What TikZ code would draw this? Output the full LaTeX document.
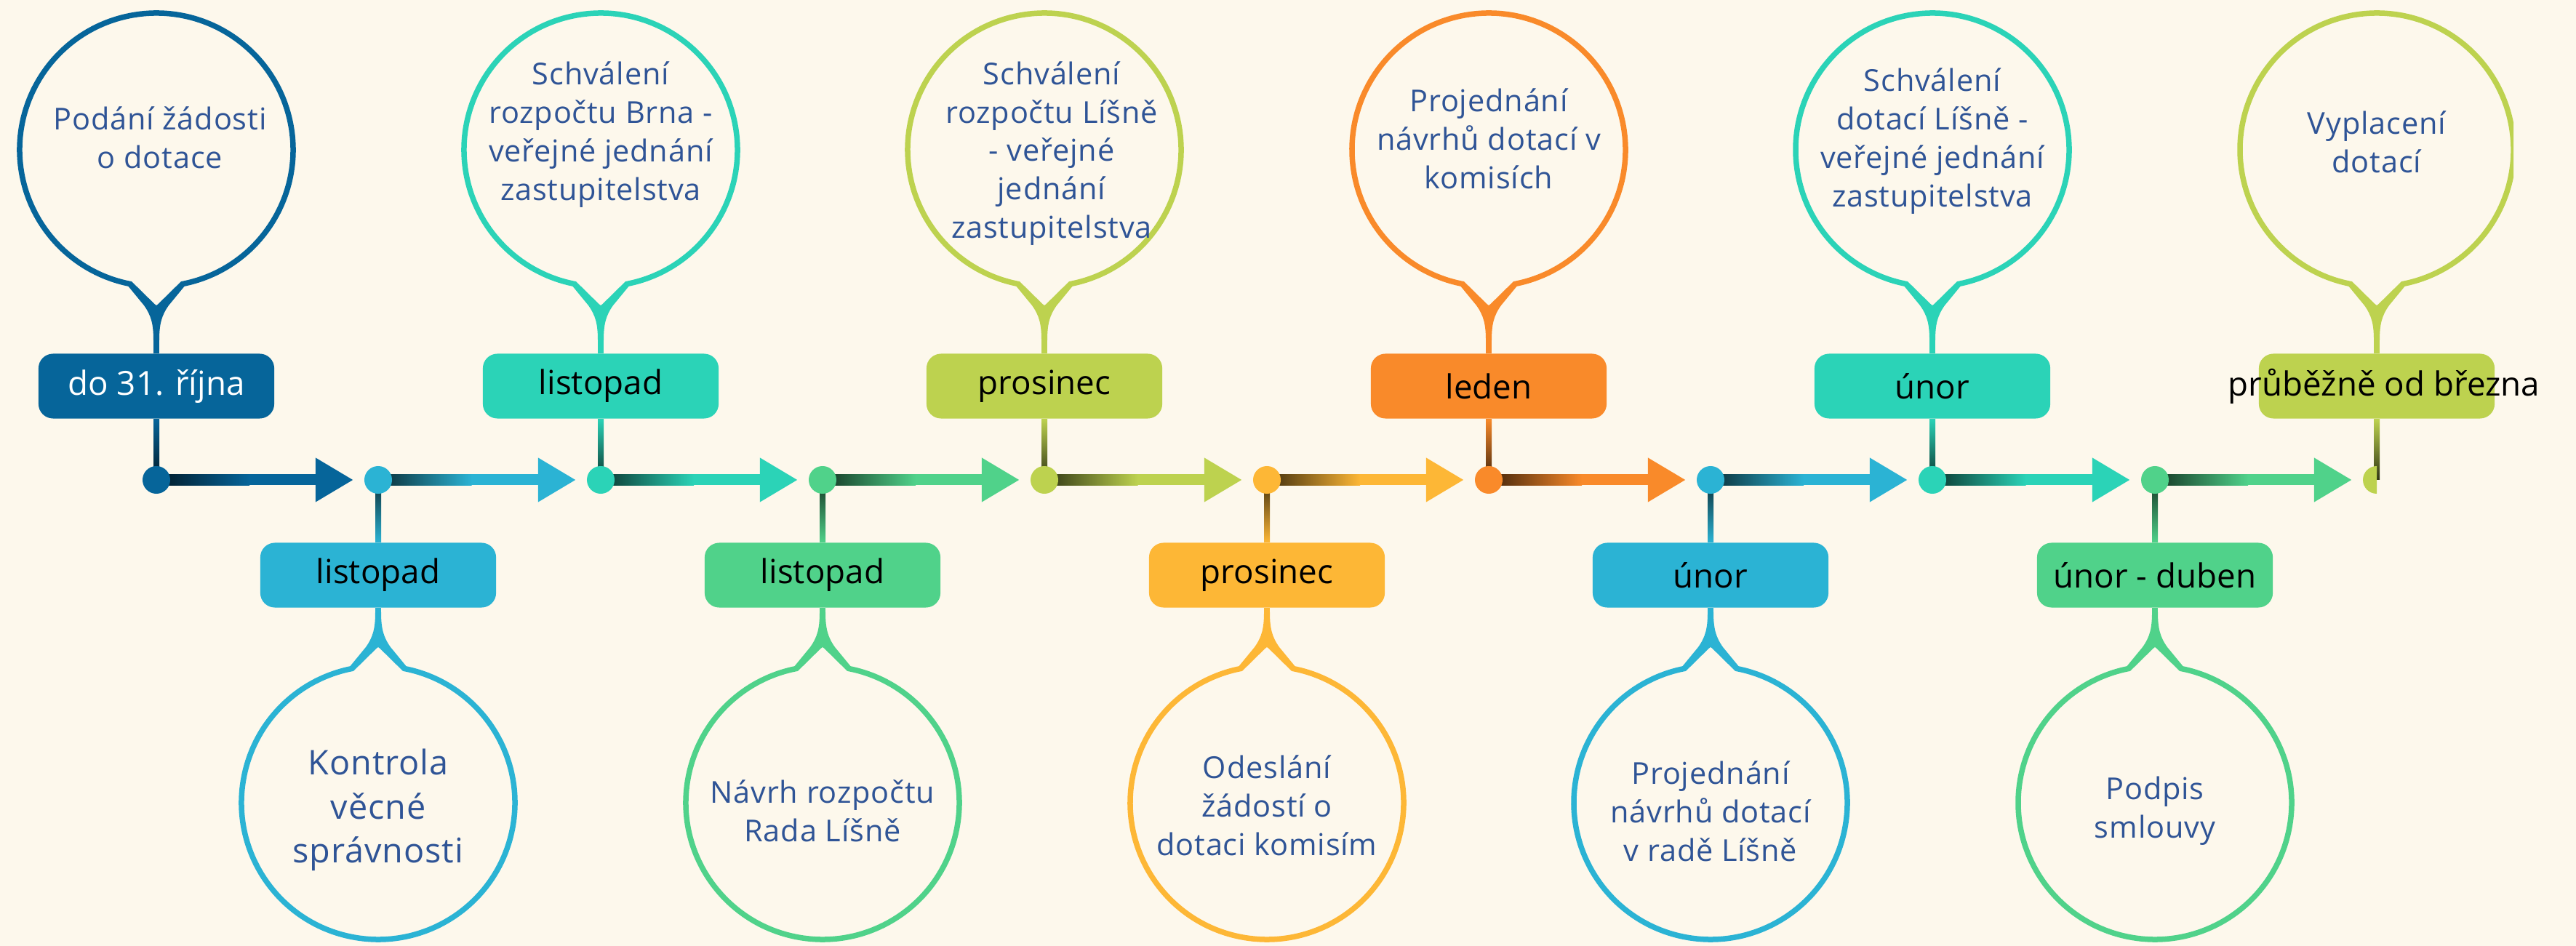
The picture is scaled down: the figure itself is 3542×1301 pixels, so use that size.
\documentclass[tikz,border=0pt]{standalone}
\usepackage{fontspec}
\setmainfont{Open Sans}
\usetikzlibrary{arrows.meta,calc}
\pgfdeclarelayer{back}
\pgfsetlayers{back,main}

\definecolor{bgc}{HTML}{FDF8EC}
\definecolor{txtblue}{HTML}{2F5496}
\definecolor{cblue}{HTML}{06659A}
\definecolor{ccyan}{HTML}{2BB3D4}
\definecolor{cteal}{HTML}{2BD3B7}
\definecolor{cgreen}{HTML}{50D28A}
\definecolor{clime}{HTML}{BDD24F}
\definecolor{cyellow}{HTML}{FDB736}
\definecolor{corange}{HTML}{F98A2A}

\tikzset{
  dot/.style={circle, fill=#1, inner sep=0pt, minimum size=0.38cm},
  month/.style={rounded corners=0.2cm, fill=#1, minimum width=3.24cm, minimum height=0.89cm,
    inner sep=0pt, font=\fontsize{13}{15}\selectfont},
  bubbletext/.style={align=center, text=txtblue,
    font=\fontsize{11.8}{15}\selectfont\addfontfeature{LetterSpace=2}},
  flow/.style={#1, line width=0.15cm, -{Triangle[length=0.52cm, width=0.57cm]}, shorten >=0.34cm},
  neck/.style={#1, line width=0.08cm},
}

% balloon with a funnel: name of the neck end, centre, 1 (up) or -1 (down), colour
\newcommand{\balloon}[4]{%
  \begin{scope}[shift={#2}, yscale=#3]
    \fill[#4] (-40,-186) -- (-17,-214) .. controls (-7,-228) and (-4,-240) .. (-4,-262)
      -- (4,-262) .. controls (4,-240) and (7,-228) .. (17,-214) -- (40,-186) -- cycle;
    \draw[#4, line width=0.075cm, fill=bgc] (281:188) arc[start angle=281, end angle=619, radius=188]
      -- (-9,-211) .. controls (0,-220) .. (9,-211) -- cycle;
    \coordinate (#1) at (0,-262);
  \end{scope}}
\newcommand{\flowarrow}[3]{%
  \draw[flow=#3] (#1.center) -- (#2.center);
  \shade[left color=#3!25!black, right color=#3] ($(#1.center)+(0,-7.5)$) rectangle ($(#1.center)!0.42!(#2.center)+(0,7.5)$);}
\newcommand{\stemdown}[3]{%
  \shade[top color=#3, bottom color=#3!25!black] ($(#1.south)+(-4,0)$) rectangle ($(#2.center)+(4,0)$);}
\newcommand{\stemup}[3]{%
  \shade[top color=#3!25!black, bottom color=#3] ($(#1.center)+(-4,0)$) rectangle ($(#2.north)+(4,0)$);}

\begin{document}
\begin{tikzpicture}[x=0.01cm, y=0.01cm]
  \useasboundingbox (0,0) rectangle (3542,-1301);
  \begin{pgfonlayer}{back}
    \fill[bgc] (0,0) rectangle (3542,-1301);
  \end{pgfonlayer}

  % dots on the time line
  \node[dot=cblue] (d1) at (215,-660) {};
  \node[dot=ccyan] (d2) at (520,-660) {};
  \node[dot=cteal] (d3) at (826,-660) {};
  \node[dot=cgreen] (d4) at (1131,-660) {};
  \node[dot=clime] (d5) at (1436,-660) {};
  \node[dot=cyellow] (d6) at (1742,-660) {};
  \node[dot=corange] (d7) at (2047,-660) {};
  \node[dot=ccyan] (d8) at (2352,-660) {};
  \node[dot=cteal] (d9) at (2657,-660) {};
  \node[dot=cgreen] (d10) at (2963,-660) {};
  \begin{scope}
    \clip (3200,-600) rectangle (3268,-720);
    \node[dot=clime] (d11) at (3268,-660) {};
  \end{scope}

  % months
  \node[month=cblue, text=white] (m1) at (215,-531) {do 31. října};
  \node[month=ccyan] (m2) at (520,-791) {listopad};
  \node[month=cteal] (m3) at (826,-531) {listopad};
  \node[month=cgreen] (m4) at (1131,-791) {listopad};
  \node[month=clime] (m5) at (1436,-531) {prosinec};
  \node[month=cyellow] (m6) at (1742,-791) {prosinec};
  \node[month=corange] (m7) at (2047,-531) {leden};
  \node[month=ccyan] (m8) at (2352,-791) {únor};
  \node[month=cteal] (m9) at (2657,-531) {únor};
  \node[month=cgreen] (m10) at (2963,-791) {únor - duben};
  \node[month=clime] (m11) at (3268,-531) {};
  \node[font=\fontsize{13}{15}\selectfont] (l11) at (3278,-531) {průběžně od března};

  % balloons
  \balloon{n1}{(215,-206)}{1}{cblue}
  \balloon{n2}{(520,-1104)}{-1}{ccyan}
  \balloon{n3}{(826,-206)}{1}{cteal}
  \balloon{n4}{(1131,-1104)}{-1}{cgreen}
  \balloon{n5}{(1436,-206)}{1}{clime}
  \balloon{n6}{(1742,-1104)}{-1}{cyellow}
  \balloon{n7}{(2047,-206)}{1}{corange}
  \balloon{n8}{(2352,-1104)}{-1}{ccyan}
  \balloon{n9}{(2657,-206)}{1}{cteal}
  \balloon{n10}{(2963,-1104)}{-1}{cgreen}
  \begin{scope}
    \clip (0,0) rectangle (3456,-1301);
    \balloon{n11}{(3268,-206)}{1}{clime}
  \end{scope}

  \node[bubbletext] (t1) at (220,-189) {Podání žádosti\\o dotace};
  \node[bubbletext, font=\fontsize{13.3}{17.3}\selectfont\addfontfeature{LetterSpace=2}] (t2) at (520,-1114) {Kontrola\\věcné\\správnosti};
  \node[bubbletext] (t3) at (826,-185) {Schválení\\rozpočtu Brna -\\veřejné jednání\\zastupitelstva};
  \node[bubbletext] (t4) at (1131,-1115) {Návrh rozpočtu\\Rada Líšně};
  \node[bubbletext] (t5) at (1446,-211) {Schválení\\rozpočtu Líšně\\- veřejné\\jednání\\zastupitelstva};
  \node[bubbletext] (t6) at (1742,-1108) {Odeslání\\žádostí o\\dotaci komisím};
  \node[bubbletext] (t7) at (2047,-191) {Projednání\\návrhů dotací v\\komisích};
  \node[bubbletext] (t8) at (2352,-1116) {Projednání\\návrhů dotací\\v radě Líšně};
  \node[bubbletext] (t9) at (2657,-194) {Schválení\\dotací Líšně -\\veřejné jednání\\zastupitelstva};
  \node[bubbletext] (t10) at (2963,-1115) {Podpis\\smlouvy};
  \node[bubbletext] (t11) at (3268,-195) {Vyplacení\\dotací};

  \begin{pgfonlayer}{back}
    \flowarrow{d1}{d2}{cblue}
    \flowarrow{d2}{d3}{ccyan}
    \flowarrow{d3}{d4}{cteal}
    \flowarrow{d4}{d5}{cgreen}
    \flowarrow{d5}{d6}{clime}
    \flowarrow{d6}{d7}{cyellow}
    \flowarrow{d7}{d8}{corange}
    \flowarrow{d8}{d9}{ccyan}
    \flowarrow{d9}{d10}{cteal}
    \flowarrow{d10}{d11}{cgreen}
    \stemdown{m1}{d1}{cblue}
    \stemup{d2}{m2}{ccyan}
    \stemdown{m3}{d3}{cteal}
    \stemup{d4}{m4}{cgreen}
    \stemdown{m5}{d5}{clime}
    \stemup{d6}{m6}{cyellow}
    \stemdown{m7}{d7}{corange}
    \stemup{d8}{m8}{ccyan}
    \stemdown{m9}{d9}{cteal}
    \stemup{d10}{m10}{cgreen}
    \stemdown{m11}{d11}{clime}
    \draw[neck=cblue] (n1) -- (m1.north);
    \draw[neck=ccyan] (n2) -- (m2.south);
    \draw[neck=cteal] (n3) -- (m3.north);
    \draw[neck=cgreen] (n4) -- (m4.south);
    \draw[neck=clime] (n5) -- (m5.north);
    \draw[neck=cyellow] (n6) -- (m6.south);
    \draw[neck=corange] (n7) -- (m7.north);
    \draw[neck=ccyan] (n8) -- (m8.south);
    \draw[neck=cteal] (n9) -- (m9.north);
    \draw[neck=cgreen] (n10) -- (m10.south);
    \draw[neck=clime] (n11) -- (m11.north);
  \end{pgfonlayer}
\end{tikzpicture}
\end{document}
